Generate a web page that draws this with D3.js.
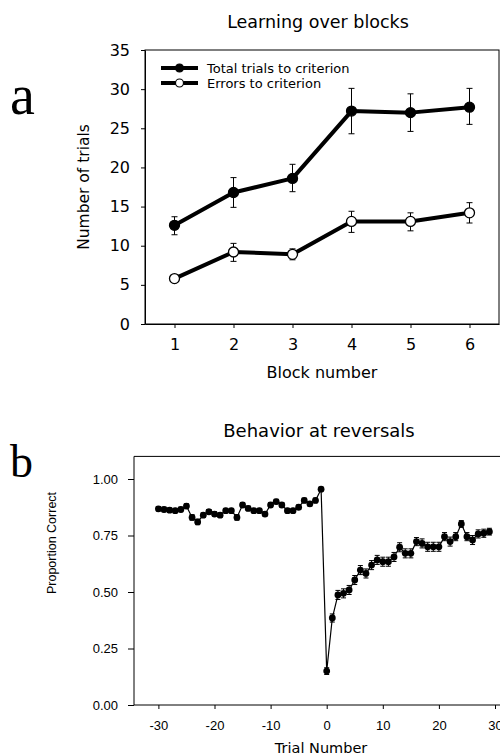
<!DOCTYPE html>
<html>
<head>
<meta charset="utf-8">
<script src="https://cdn.jsdelivr.net/npm/d3@7"></script>
<style>
  body { margin: 0; background: #fff; }
  svg { display: block; font-family: "DejaVu Sans", Arial, sans-serif; }
</style>
</head>
<body>
<div id="chart"></div>
<script>
/**
 * DATA
 * */
// panel a
const blocks = [1, 2, 3, 4, 5, 6];
const totalTrials = [12.6, 16.8, 18.6, 27.2, 27.0, 27.7];
const totalLo = [11.4, 14.9, 16.9, 24.3, 24.6, 25.5];
const totalHi = [13.7, 18.7, 20.4, 30.1, 29.4, 30.1];
const errorTrials = [5.8, 9.2, 8.9, 13.1, 13.1, 14.2];
const errorLo = [5.5, 8.0, 8.2, 11.7, 11.9, 12.9];
const errorHi = [6.1, 10.3, 9.6, 14.4, 14.2, 15.5];
const legendLabels = ["Total trials to criterion", "Errors to criterion"];
const aTicksY = [0, 5, 10, 15, 20, 25, 30, 35];

// panel b
const trialNumbers = [-30, -29, -28, -27, -26, -25, -24, -23, -22, -21,
  -20, -19, -18, -17, -16, -15, -14, -13, -12, -11,
  -10, -9, -8, -7, -6, -5, -4, -3, -2, -1,
  0, 1, 2, 3, 4, 5, 6, 7, 8, 9,
  10, 11, 12, 13, 14, 15, 16, 17, 18, 19,
  20, 21, 22, 23, 24, 25, 26, 27, 28, 29];
const propCorrect = [0.868, 0.865, 0.862, 0.860, 0.865, 0.880, 0.830, 0.810, 0.840, 0.855,
  0.845, 0.840, 0.860, 0.860, 0.830, 0.885, 0.870, 0.860, 0.860, 0.845,
  0.885, 0.900, 0.885, 0.860, 0.860, 0.875, 0.905, 0.890, 0.905, 0.955,
  0.150, 0.385, 0.487, 0.494, 0.509, 0.553, 0.597, 0.582, 0.619, 0.642,
  0.634, 0.634, 0.655, 0.698, 0.671, 0.671, 0.723, 0.715, 0.700, 0.700,
  0.700, 0.745, 0.723, 0.745, 0.801, 0.745, 0.730, 0.757, 0.760, 0.767];
const propSE = [0.010, 0.010, 0.010, 0.010, 0.010, 0.010, 0.012, 0.012, 0.010, 0.010,
  0.010, 0.010, 0.010, 0.010, 0.012, 0.010, 0.010, 0.010, 0.010, 0.010,
  0.010, 0.010, 0.010, 0.010, 0.010, 0.010, 0.010, 0.010, 0.010, 0.008,
  0.015, 0.018, 0.020, 0.020, 0.020, 0.020, 0.020, 0.020, 0.020, 0.020,
  0.020, 0.020, 0.020, 0.020, 0.020, 0.020, 0.018, 0.020, 0.020, 0.020,
  0.020, 0.018, 0.020, 0.018, 0.015, 0.018, 0.020, 0.018, 0.018, 0.015];
const bTicksY = [0, 0.25, 0.5, 0.75, 1.0];
const bTicksX = [-30, -20, -10, 0, 10, 20, 30];

/**
 * SVG
 * */
const width = 500, height = 755;
const svg = d3.select("#chart").append("svg")
  .attr("width", width)
  .attr("height", height);

/**
 * PANEL A
 * */
const ax = d3.scaleLinear().domain([0.5, 6.5]).range([145, 499]);
const ay = d3.scaleLinear().domain([0, 35]).range([324, 50]);

const ga = svg.append("g");

ga.append("text")
  .attr("x", 318).attr("y", 28)
  .attr("text-anchor", "middle")
  .attr("font-size", 17.5)
  .text("Learning over blocks");

ga.append("text")
  .attr("x", 10).attr("y", 114)
  .attr("font-family", "Liberation Serif, Times New Roman, serif")
  .attr("font-size", 56)
  .text("a");

// frame
ga.append("rect")
  .attr("x", ax.range()[0]).attr("y", ay.range()[1])
  .attr("width", ax.range()[1] - ax.range()[0])
  .attr("height", ay.range()[0] - ay.range()[1])
  .attr("fill", "none").attr("stroke", "#000").attr("stroke-width", 1);

const aAxisY = ga.append("g")
  .attr("transform", `translate(${ax.range()[0]},0)`)
  .call(d3.axisLeft(ay).tickValues(aTicksY).tickSize(4).tickPadding(11).tickSizeOuter(0));
const aAxisX = ga.append("g")
  .attr("transform", `translate(0,${ay.range()[0]})`)
  .call(d3.axisBottom(ax).tickValues(blocks).tickFormat(d => String(d))
    .tickSize(4).tickPadding(11).tickSizeOuter(0));
[aAxisY, aAxisX].forEach(g => {
  g.selectAll("text").attr("font-size", 16).attr("font-family", "DejaVu Sans, Arial, sans-serif").attr("fill", "#000");
  g.select(".domain").attr("stroke", "#000");
});

ga.append("text")
  .attr("transform", `translate(89,${(ay.range()[0] + ay.range()[1]) / 2}) rotate(-90)`)
  .attr("text-anchor", "middle")
  .attr("font-size", 15.5)
  .text("Number of trials");

ga.append("text")
  .attr("x", (ax.range()[0] + ax.range()[1]) / 2).attr("y", 378)
  .attr("text-anchor", "middle")
  .attr("font-size", 16)
  .text("Block number");

const seriesA = [
  { vals: totalTrials, lo: totalLo, hi: totalHi, fill: "#000" },
  { vals: errorTrials, lo: errorLo, hi: errorHi, fill: "#fff" }
];

const lineA = d3.line().x((d, i) => ax(blocks[i])).y(d => ay(d));

seriesA.forEach(s => {
  const g = ga.append("g");
  g.selectAll("g.err")
    .data(blocks)
    .join("g")
    .attr("class", "err")
    .each(function (b, i) {
      const e = d3.select(this);
      e.append("line")
        .attr("x1", ax(b)).attr("x2", ax(b))
        .attr("y1", ay(s.lo[i])).attr("y2", ay(s.hi[i]))
        .attr("stroke", "#000").attr("stroke-width", 1);
      [s.lo[i], s.hi[i]].forEach(v => {
        e.append("line")
          .attr("x1", ax(b) - 3).attr("x2", ax(b) + 3)
          .attr("y1", ay(v)).attr("y2", ay(v))
          .attr("stroke", "#000").attr("stroke-width", 1);
      });
    });
  g.append("path")
    .datum(s.vals)
    .attr("d", lineA)
    .attr("fill", "none").attr("stroke", "#000").attr("stroke-width", 4)
    .attr("stroke-linejoin", "round");
  g.selectAll("circle")
    .data(s.vals)
    .join("circle")
    .attr("cx", (d, i) => ax(blocks[i]))
    .attr("cy", d => ay(d))
    .attr("r", 5)
    .attr("fill", s.fill)
    .attr("stroke", "#000").attr("stroke-width", 1.3);
});

// legend
const legend = ga.append("g");
legendLabels.forEach((lab, i) => {
  const y = 68 + i * 15;
  legend.append("line")
    .attr("x1", 161).attr("x2", 198).attr("y1", y).attr("y2", y)
    .attr("stroke", "#000").attr("stroke-width", 4);
  legend.append("circle")
    .attr("cx", 179.5).attr("cy", y).attr("r", 4)
    .attr("fill", seriesA[i].fill).attr("stroke", "#000").attr("stroke-width", 1.2);
  legend.append("text")
    .attr("x", 207).attr("y", y + 4.5)
    .attr("font-size", 13)
    .text(lab);
});

/**
 * PANEL B
 * */
const bx = d3.scaleLinear().domain([-30, 30]).range([158.4, 495]);
const by = d3.scaleLinear().domain([0, 1.1]).range([705, 456.4]);
const bLeft = 134, bRight = 530;

const gb = svg.append("g");

gb.append("text")
  .attr("x", 319).attr("y", 437)
  .attr("text-anchor", "middle")
  .attr("font-size", 18)
  .text("Behavior at reversals");

gb.append("text")
  .attr("x", 10).attr("y", 477)
  .attr("font-family", "Liberation Serif, Times New Roman, serif")
  .attr("font-size", 46)
  .text("b");

// frame (left, top, bottom)
gb.append("path")
  .attr("d", `M${bRight},${by(1.1)}H${bLeft}V${by(0)}H${bRight}`)
  .attr("fill", "none").attr("stroke", "#000").attr("stroke-width", 1);

const bAxisY = gb.append("g")
  .attr("transform", `translate(${bLeft},0)`)
  .call(d3.axisLeft(by).tickValues(bTicksY).tickFormat(d3.format(".2f")).tickSize(6).tickPadding(10).tickSizeOuter(0));
const bAxisX = gb.append("g")
  .attr("transform", `translate(0,${by(0)})`)
  .call(d3.axisBottom(bx).tickValues(bTicksX).tickFormat(d => String(d))
    .tickSize(4).tickPadding(12).tickSizeOuter(0));
[bAxisY, bAxisX].forEach(g => {
  g.selectAll("text").attr("font-size", 13).attr("font-family", "Liberation Sans, Arial, sans-serif").attr("fill", "#000");
  g.select(".domain").remove();
});

gb.append("text")
  .attr("transform", `translate(56,543) rotate(-90)`)
  .attr("text-anchor", "middle")
  .attr("font-family", "Liberation Sans, Arial, sans-serif")
  .attr("font-size", 12.5)
  .text("Proportion Correct");

gb.append("text")
  .attr("x", bx(-1)).attr("y", 753)
  .attr("text-anchor", "middle")
  .attr("font-size", 14.5)
  .text("Trial Number");

const lineB = d3.line().x((d, i) => bx(trialNumbers[i])).y(d => by(d));

gb.append("g")
  .selectAll("g")
  .data(propCorrect)
  .join("g")
  .each(function (v, i) {
    const e = d3.select(this);
    const x = bx(trialNumbers[i]);
    const lo = by(v - propSE[i]), hi = by(v + propSE[i]);
    e.append("line").attr("x1", x).attr("x2", x).attr("y1", lo).attr("y2", hi)
      .attr("stroke", "#000").attr("stroke-width", 1);
    [lo, hi].forEach(y => {
      e.append("line").attr("x1", x - 2.5).attr("x2", x + 2.5).attr("y1", y).attr("y2", y)
        .attr("stroke", "#000").attr("stroke-width", 1);
    });
  });

gb.append("path")
  .datum(propCorrect)
  .attr("d", lineB)
  .attr("fill", "none").attr("stroke", "#000").attr("stroke-width", 1.2);

gb.selectAll("circle")
  .data(propCorrect)
  .join("circle")
  .attr("cx", (d, i) => bx(trialNumbers[i]))
  .attr("cy", d => by(d))
  .attr("r", 3.4)
  .attr("fill", "#000");
</script>
</body>
</html>
